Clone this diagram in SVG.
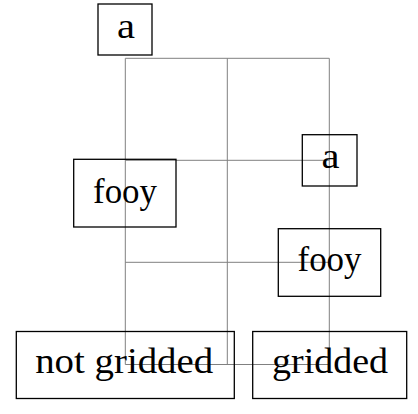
<svg xmlns="http://www.w3.org/2000/svg" width="418" height="414" viewBox="0 0 418 414">
  <style>
    .box { fill: none; stroke: #000; stroke-width: 1.3; }
    .grid { fill: none; stroke: #808080; stroke-width: 1; }
    .lbl { font-size: 36px; fill: #000; text-anchor: middle; }
  </style>
  <rect width="418" height="414" fill="#fff"/>
  <g id="connectors">
    <path class="grid" d="M125.3,58.3 H329.3 M125.3,160.3 H329.3 M125.3,262.3 H329.3 M125.3,364.5 H329.3 M125.3,58.3 V364.5 M227.3,58.3 V364.5 M329.3,58.3 V364.5"/>
  </g>
  <g id="nodes" font-family="'Liberation Serif', 'DejaVu Serif', serif">
  <g id="node-a-top">
    <rect class="box" x="98" y="4" width="54" height="51"/>
    <text class="lbl" x="126" y="37.7" textLength="18" lengthAdjust="spacingAndGlyphs">a</text>
  </g>
  <g id="node-fooy-left">
    <rect class="box" x="73.7" y="159.3" width="102.3" height="67.7"/>
    <text class="lbl" x="125" y="202.7" textLength="64" lengthAdjust="spacingAndGlyphs">fooy</text>
  </g>
  <g id="node-a-right">
    <rect class="box" x="302.3" y="134.7" width="54.7" height="51.3"/>
    <text class="lbl" x="330.5" y="168.3" textLength="18" lengthAdjust="spacingAndGlyphs">a</text>
  </g>
  <g id="node-fooy-right">
    <rect class="box" x="278.3" y="228.7" width="102.4" height="67.6"/>
    <text class="lbl" x="329.5" y="271" textLength="64" lengthAdjust="spacingAndGlyphs">fooy</text>
  </g>
  <g id="node-not-gridded">
    <rect class="box" x="16.3" y="331.5" width="218" height="67"/>
    <text class="lbl" x="124.2" y="373.4" textLength="178" lengthAdjust="spacingAndGlyphs">not gridded</text>
  </g>
  <g id="node-gridded">
    <rect class="box" x="252.7" y="331.5" width="154" height="67"/>
    <text class="lbl" x="330" y="373.4" textLength="116" lengthAdjust="spacingAndGlyphs">gridded</text>
  </g>
  </g>
</svg>
